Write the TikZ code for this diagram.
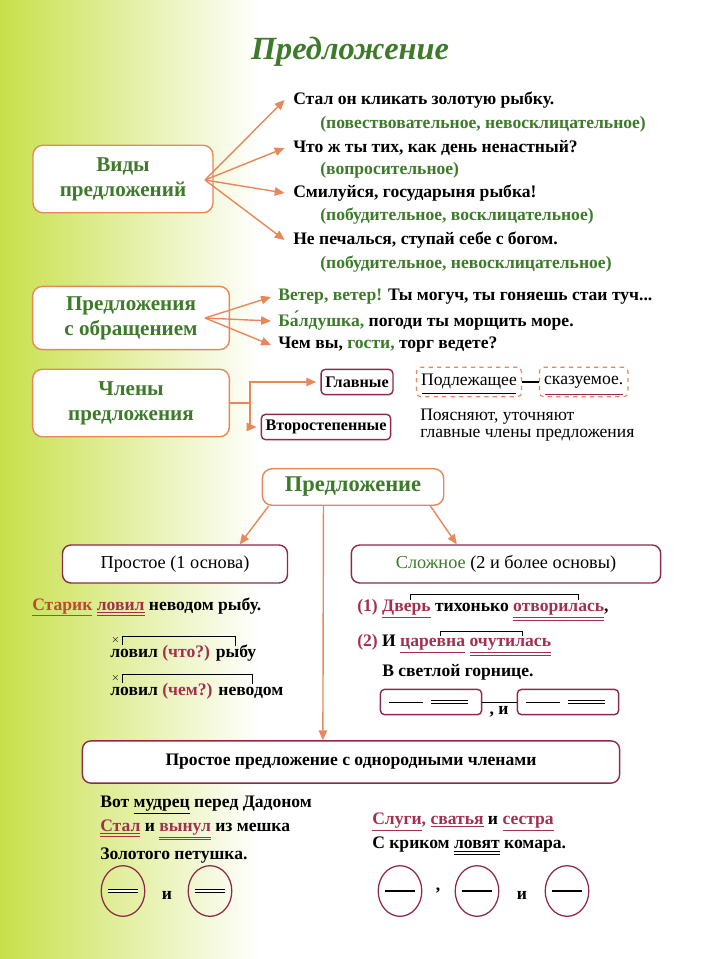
\documentclass[tikz,border=0pt]{standalone}
\usepackage{fontspec}
\setmainfont{Liberation Serif}
\usetikzlibrary{positioning,arrows.meta,shapes.geometric}
\definecolor{arr}{HTML}{E8875A}
\definecolor{grn}{HTML}{3D7A2A}
\definecolor{wine}{HTML}{8E2A48}
\definecolor{rd}{HTML}{A3304F}
\definecolor{lime}{HTML}{C8E04A}
\newcommand{\one}[1]{\underline{#1}}
\newcommand{\two}[1]{\underline{\underline{#1}}}
\tikzset{
  obox/.style={draw=arr, line width=1pt, rounded corners=7pt, fill=white, text=grn, align=center, font=\fontsize{15}{18}\selectfont\bfseries},
  wbox/.style={draw=wine, line width=1pt, rounded corners=6pt, fill=white, font=\fontsize{13}{15}\selectfont},
  sbox/.style={draw=wine, line width=1pt, rounded corners=3pt, fill=white, font=\fontsize{11.5}{13}\selectfont\bfseries, inner sep=3pt, minimum height=18pt},
  dbox/.style={draw=arr, dashed, line width=0.8pt, rounded corners=3pt, font=\fontsize{12.5}{14}\selectfont, minimum height=21pt},
  txt/.style={anchor=west, inner sep=0pt, font=\fontsize{12.5}{14}\selectfont\bfseries},
  lite/.style={anchor=west, inner sep=0pt, font=\fontsize{12.5}{14}\selectfont},
  oarr/.style={draw=arr, line width=1pt, -{Triangle[length=7pt,width=6pt]}},
  oval/.style={draw=wine, line width=0.9pt, ellipse, minimum width=31pt, minimum height=36pt, inner sep=0pt},
}
\begin{document}
\begin{tikzpicture}[x=0.025cm, y=-0.025cm]
\useasboundingbox (0,0) rectangle (700,959);
% background
\shade[left color=lime, right color=white] (0,0) rectangle (260,959);

\node[font=\fontsize{23}{26}\selectfont\bfseries\itshape, text=grn] (title) at (350,52) {Предложение};

% kinds of sentences
\node[obox, minimum width=128pt, minimum height=48pt] (kinds) at (123,179) {Виды\\предложений};
\node[txt] (k1) at (293,100) {Стал он кликать золотую рыбку.};
\node[txt, text=grn] (k1a) at (320,124) {(повествовательное, невосклицательное)};
\node[txt] (k2) at (293,148) {Что ж ты тих, как день ненастный?};
\node[txt, text=grn] (k2a) at (320,170) {(вопросительное)};
\node[txt] (k3) at (293,193) {Смилуйся, государыня рыбка!};
\node[txt, text=grn] (k3a) at (320,216) {(побудительное, восклицательное)};
\node[txt] (k4) at (293,240) {Не печалься, ступай себе с богом.};
\node[txt, text=grn] (k4a) at (320,264) {(побудительное, невосклицательное)};
\coordinate (kf) at (205,180);
\foreach \t in {k1,k2,k3,k4} \draw[oarr] (kf) -- ([xshift=-6pt]\t.west);

% address
\node[obox, minimum width=140pt, minimum height=45pt] (addr) at (131,318) {Предложения\\с обращением};
\node[txt] (a1) at (278,297) {\textcolor{grn}{Ветер, ветер!} Ты могуч, ты гоняешь стаи туч...};
\node[txt] (a2) at (278,321) {\textcolor{grn}{Ба́лдушка,} погоди ты морщить море.};
\node[txt] (a3) at (278,345) {Чем вы, \textcolor{grn}{гости,} торг ведете?};
\coordinate (af) at (205,318);
\foreach \t in {a1,a2,a3} \draw[oarr] (af) -- ([xshift=-5pt]\t.west);

% members
\node[obox, minimum width=140pt, minimum height=48pt] (memb) at (131,403) {Члены\\предложения};
\node[sbox] (main) at (357,382) {Главные};
\node[sbox] (minor) at (326,427) {Второстепенные};
\node[dbox] (subj) at (469,382) {Подлежащее};
\node[dbox, right=12pt of subj] (pred) {сказуемое.};
\draw[line width=0.8pt] (subj) -- (pred);
\draw[line width=0.6pt] ([xshift=4pt,yshift=3pt]subj.south west) -- ([xshift=-4pt,yshift=3pt]subj.south east);
\draw[line width=0.6pt, wine, double, double distance=1pt] ([xshift=4pt,yshift=3pt]pred.south west) -- ([xshift=-4pt,yshift=3pt]pred.south east);
\node[lite] (expl) at (420,417) {Поясняют, уточняют};
\node[lite, below=3pt of expl.south west, anchor=north west] (expl2) {главные члены предложения};
\coordinate (mf) at (250,403);
\draw[draw=arr, line width=1pt] (memb.east) -- (mf);
\draw[oarr] (mf) |- ([xshift=-3pt]main.west);
\draw[oarr] (mf) |- ([xshift=-3pt]minor.west);

% sentence tree
\node[obox, font=\fontsize{16}{19}\selectfont\bfseries, minimum width=129pt, minimum height=26pt] (sent) at (353,487) {Предложение};
\node[wbox, minimum width=160pt, minimum height=27pt] (simple) at (175,564) {Простое (1 основа)};
\node[wbox, minimum width=220pt, minimum height=27pt] (compl) at (506,564) {\textcolor{grn}{Сложное} (2 и более основы)};
\node[wbox, font=\fontsize{12.5}{15}\selectfont\bfseries, minimum width=382pt, minimum height=30pt] (homog) at (351,762) {Простое предложение с однородными членами};
\draw[oarr] ([xshift=-60pt]sent.south) -- ([xshift=46pt]simple.north);
\draw[oarr] ([xshift=55pt]sent.south) -- ([xshift=-35pt]compl.north);
\draw[oarr] ([xshift=-21pt]sent.south) -- ([xshift=-20pt]homog.north);

% simple example
\node[txt] (s1) at (32,607) {\textcolor{rd!70!orange}{\one{Старик}} \textcolor{rd}{\two{ловил}} неводом рыбу.};
\node[txt] (s2) at (110,653) {ловил \textcolor{rd}{(что?)} рыбу};
\node[txt] (s3) at (110,691) {ловил \textcolor{rd}{(чем?)} неводом};
\foreach \s/\e in {s2/80, s3/92}{
  \node[inner sep=0pt, font=\scriptsize] (x\s) at ([xshift=4pt,yshift=9pt]\s.west) {$\times$};
  \draw[line width=0.6pt] ([xshift=9pt,yshift=6pt]\s.west) |- ++(\e pt,6pt) -- ++(0,-7pt);
}

% complex example
\node[txt] (c1) at (357,610) {\textcolor{rd}{(1)} \textcolor{rd}{\one{Дверь}} тихонько \textcolor{rd}{\two{отворилась}},};
\node[txt] (c2) at (357,645) {\textcolor{rd}{(2)} И \textcolor{rd}{\one{царевна}} \textcolor{rd}{\two{очутилась}}};
\node[txt] (c3) at (382,672) {В светлой горнице.};
\draw[line width=0.6pt] (410,594) -- ++(0,6) (410,594) -- (578,594) -- ++(0,6);
\draw[line width=0.6pt] (440,631) -- ++(0,5) (440,631) -- (522,631) -- ++(0,5);
\node[sbox, minimum width=72pt, minimum height=18pt] (b1) at (431,702) {};
\node[sbox, minimum width=72pt, minimum height=18pt] (b2) at (568,702) {};
\draw[line width=0.7pt] (b1) -- (b2);
\node[txt, anchor=center] (bc) at (499,712) {, и};
\foreach \b in {b1,b2}{
  \draw[line width=0.7pt] ([xshift=-30pt]\b.center) -- ([xshift=-6pt]\b.center);
  \draw[line width=0.7pt, double, double distance=1pt] ([xshift=0pt]\b.center) -- ([xshift=26pt]\b.center);
}

% homogeneous examples
\node[txt] (h1) at (100,805) {Вот \one{мудрец} перед Дадоном};
\node[txt] (h2) at (100,830) {\textcolor{rd}{\two{Стал}} и \textcolor{rd}{\two{вынул}} из мешка};
\node[txt] (h3) at (100,856) {Золотого петушка.};
\node[txt] (h4) at (372,822) {\textcolor{rd}{\one{Слуги}, \one{сватья}} и \textcolor{rd}{\one{сестра}}};
\node[txt] (h5) at (372,846) {С криком \two{ловят} комара.};
\node[oval] (o1) at (123,891) {};
\node[oval] (o2) at (210,891) {};
\node[txt, anchor=center] (oi) at (167,895) {и};
\node[oval] (o3) at (400,891) {};
\node[oval] (o4) at (477,891) {};
\node[oval] (o5) at (567,891) {};
\node[txt, anchor=center] (oc) at (438,891) {,};
\node[txt, anchor=center] (oi2) at (522,895) {и};
\foreach \o in {o1,o2}
  \draw[line width=0.7pt, double, double distance=1pt] ([xshift=-11pt]\o.center) -- ([xshift=11pt]\o.center);
\foreach \o in {o3,o4,o5}
  \draw[line width=0.8pt] ([xshift=-11pt]\o.center) -- ([xshift=11pt]\o.center);
\end{tikzpicture}
\end{document}
